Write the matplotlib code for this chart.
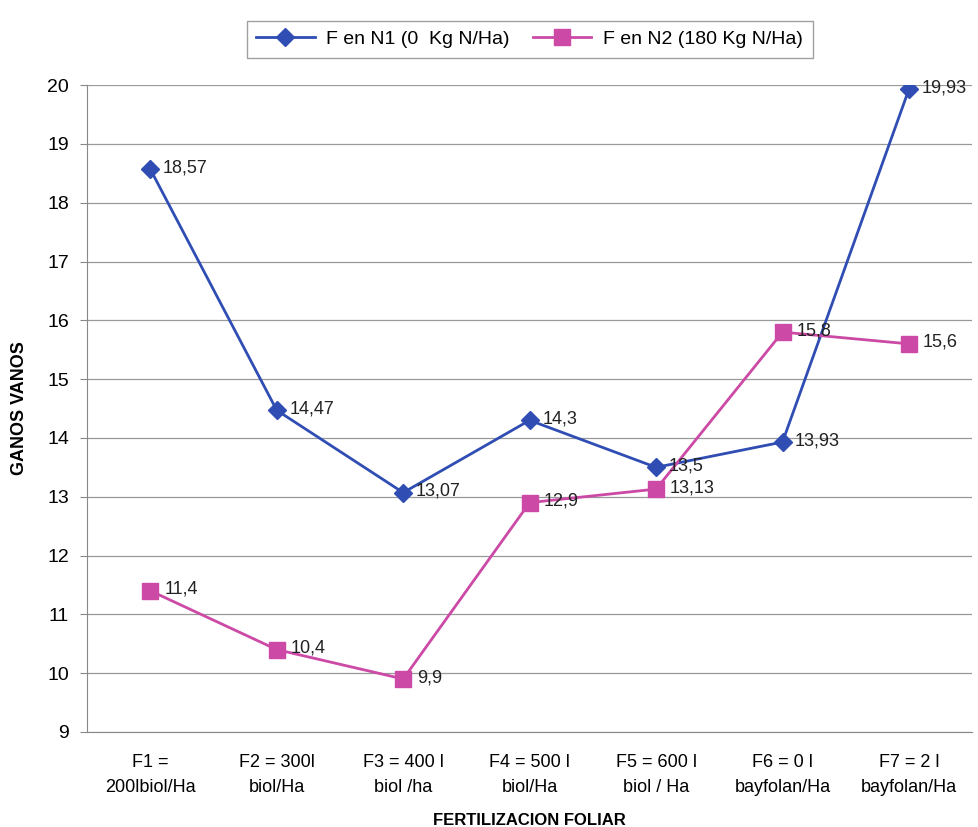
import matplotlib.pyplot as plt

plt.rcParams['font.family'] = ['Liberation Sans', 'DejaVu Sans']

categorias = ['F1 =\n200lbiol/Ha', 'F2 = 300l\nbiol/Ha', 'F3 = 400 l\nbiol /ha',
              'F4 = 500 l\nbiol/Ha', 'F5 = 600 l\nbiol / Ha', 'F6 = 0 l\nbayfolan/Ha',
              'F7 = 2 l\nbayfolan/Ha']
n1 = [18.57, 14.47, 13.07, 14.3, 13.5, 13.93, 19.93]
n2 = [11.4, 10.4, 9.9, 12.9, 13.13, 15.8, 15.6]
lbl_n1 = ['18,57', '14,47', '13,07', '14,3', '13,5', '13,93', '19,93']
lbl_n2 = ['11,4', '10,4', '9,9', '12,9', '13,13', '15,8', '15,6']

azul = '#2f4db3'
magenta = '#cc4aa6'

fig = plt.figure(figsize=(9.79, 8.27), dpi=100)
ax = fig.add_axes([0.089, 0.115, 0.904, 0.782])

x = range(len(categorias))
ax.plot(x, n1, color=azul, lw=2, marker='D', ms=9, label='F en N1 (0  Kg N/Ha)', zorder=3)
ax.plot(x, n2, color=magenta, lw=2, marker='s', ms=12, label='F en N2 (180 Kg N/Ha)', zorder=3)

for xi, v, t in zip(x, n1, lbl_n1):
    ax.annotate(t, (xi, v), xytext=(9, 1), textcoords='offset points',
                va='center', fontsize=13, color='#222222')
for xi, v, t in zip(x, n2, lbl_n2):
    ax.annotate(t, (xi, v), xytext=(10, 1), textcoords='offset points',
                va='center', fontsize=13, color='#222222')

ax.set_xlim(-0.5, 6.5)
ax.set_ylim(9, 20)
ax.set_yticks(range(9, 21))
ax.set_xticks(list(x))
ax.set_xticklabels(categorias, fontsize=13, linespacing=1.6)
ax.tick_params(axis='y', labelsize=14, length=5, color='#888888', pad=8)
ax.tick_params(axis='x', length=0, pad=16)
ax.yaxis.grid(True, color='#999999', lw=0.9)

for s in ['top', 'right']:
    ax.spines[s].set_visible(False)
for s in ['left', 'bottom']:
    ax.spines[s].set_color('#888888')

ax.set_xlabel('FERTILIZACION FOLIAR', fontsize=12, fontweight='bold', labelpad=12)
ax.set_ylabel('GANOS VANOS', fontsize=13, fontweight='bold', labelpad=14)

leg = ax.legend(loc='upper center', bbox_to_anchor=(0.5, 1.115), ncol=2,
                frameon=True, fancybox=False, fontsize=14, handlelength=3,
                columnspacing=1.2, handletextpad=0.6, borderpad=0.5)
leg.get_frame().set_edgecolor('#888888')

fig.savefig('out.png', dpi=100, facecolor='white')
